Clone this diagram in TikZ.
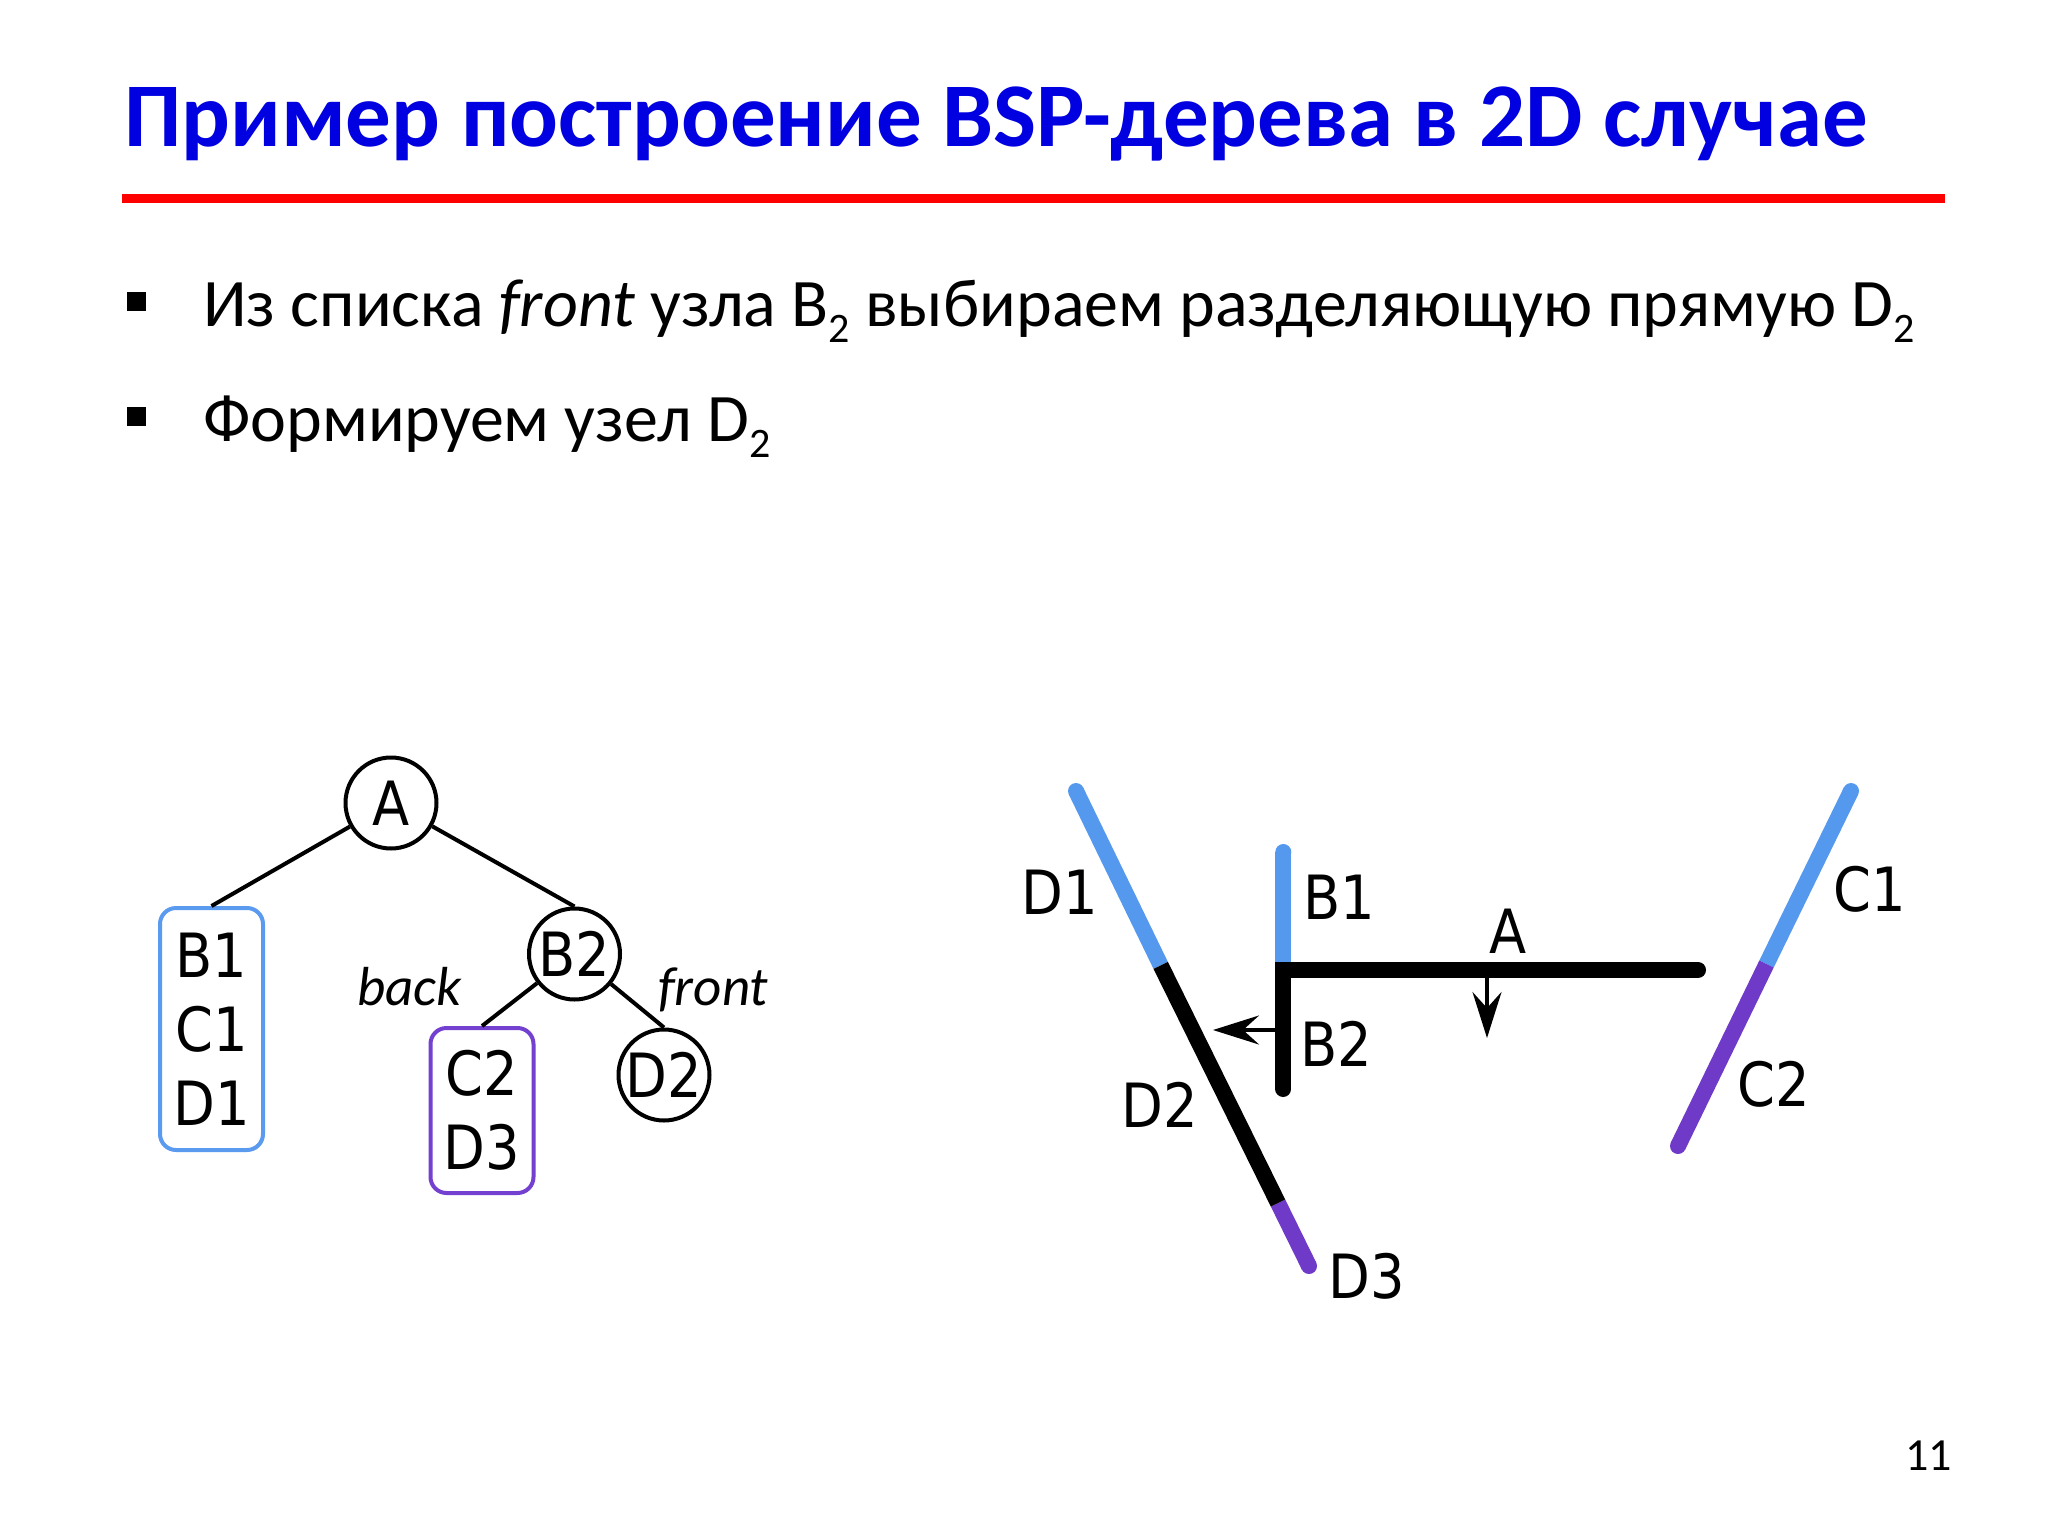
\documentclass[tikz,border=0pt]{standalone}
\usepackage{fontspec}
\setmainfont{Carlito}
\newfontfamily\lblfont[FakeStretch=0.89]{DejaVu Sans}
\usetikzlibrary{arrows.meta}
\definecolor{ttlblue}{RGB}{0,0,224}
\definecolor{segblue}{RGB}{85,153,238}
\definecolor{segpurple}{RGB}{112,58,200}
\definecolor{boxblue}{RGB}{90,155,240}
\definecolor{boxpurple}{RGB}{115,64,208}
\newcommand\sbtwo{\raisebox{-0.24em}{\fontsize{42}{42}\selectfont 2}}
\tikzset{
  lbl/.style={inner sep=0, font=\lblfont\fontsize{61}{74}\selectfont},
  tcirc/.style={lbl, circle, draw, line width=4pt, minimum size=91pt},
  lbox/.style={lbl, rectangle, rounded corners=16pt, line width=4pt, align=center, minimum width=103pt},
  tedge/.style={line width=4pt},
  seg/.style={line width=16pt, line cap=butt},
  thinarrow/.style={line width=3.5pt, -{Stealth[length=46pt,width=29pt,inset=16pt]}},
  sidetext/.style={inner sep=0, anchor=base west, font=\itshape\fontsize{55}{60}\selectfont},
  bullettext/.style={inner sep=0, anchor=base west, font=\fontsize{68}{80}\selectfont},
  bulletsq/.style={fill=black, minimum size=19pt, inner sep=0},
}
\begin{document}
\begin{tikzpicture}[x=1pt,y=-1pt]
\useasboundingbox[fill=white] (0,0) rectangle (2048,1536);

% title
\node[anchor=base west, inner sep=0, text=ttlblue, font=\bfseries\fontsize{91}{100}\selectfont] (title) at (124,146.5) {Пример построение BSP-дерева в 2D случае};
\draw[red, line width=8.7pt] (121.8,198.3) -- (1945,198.3);

% bullets
\node[bulletsq] (bul1) at (136.3,301) {};
\node[bullettext] (txt1) at (203,326) {Из списка \textit{front} узла B\sbtwo{} выбираем разделяющую прямую D\sbtwo};
\node[bulletsq] (bul2) at (136.3,416.7) {};
\node[bullettext] (txt2) at (203,441.5) {Формируем узел D\sbtwo};

% tree
\node[tcirc] (A) at (391,803) {A};
\node[tcirc] (B2) at (574.5,954) {B2};
\node[tcirc] (D2) at (664,1075) {D2};
\node[lbox, draw=boxblue, minimum height=242pt] (L) at (211.5,1029) {B1\\C1\\D1};
\node[lbox, draw=boxpurple, minimum height=165pt] (C) at (482,1110.5) {C2\\D3};
\draw[tedge] (A) -- (L.north);
\draw[tedge] (A) -- (B2.north);
\draw[tedge] (B2) -- (C.north);
\draw[tedge] (B2) -- (D2.north);
\node[sidetext] (back) at (357,1005) {back};
\node[sidetext] (front) at (658,1005) {front};

% right diagram: line D
\coordinate (dtop) at (1076,791);
\coordinate (dmid1) at (1160.7,965.4);
\coordinate (dmid2) at (1278,1203);
\coordinate (dbot) at (1309,1266);
\draw[seg, segblue] (dtop) -- (dmid1);
\fill[segblue] (dtop) circle (8pt);
\draw[seg, segpurple] (dmid2) -- (dbot);
\fill[segpurple] (dbot) circle (8pt);
\draw[seg, black] (dmid1) -- (dmid2);

% line C
\coordinate (ctop) at (1851,791);
\coordinate (cmid) at (1766.5,964);
\coordinate (cbot) at (1678,1146);
\draw[seg, segblue] (ctop) -- (cmid);
\fill[segblue] (ctop) circle (8pt);
\draw[seg, segpurple] (cmid) -- (cbot);
\fill[segpurple] (cbot) circle (8pt);

% line B and A
\coordinate (btop) at (1283.3,852);
\coordinate (bjoin) at (1283.3,962);
\coordinate (corner) at (1283.3,970);
\coordinate (bbot) at (1283.3,1089);
\coordinate (aend) at (1698,970);
\draw[seg, segblue] (btop) -- (bjoin);
\fill[segblue] (btop) circle (8pt);
\draw[line width=16pt, line cap=round, line join=miter] (bbot) -- (corner) -- (aend);

% normals
\coordinate (anorm0) at (1487,978);
\coordinate (anorm1) at (1487,1038);
\coordinate (bnorm0) at (1275,1030);
\coordinate (bnorm1) at (1213,1030);
\draw[thinarrow] (anorm0) -- (anorm1);
\draw[thinarrow] (bnorm0) -- (bnorm1);

% labels
\node[lbl] (lD1) at (1060,892) {D1};
\node[lbl] (lB1) at (1339,897) {B1};
\node[lbl] (lA) at (1508,931) {A};
\node[lbl] (lB2) at (1336,1044) {B2};
\node[lbl] (lD2) at (1160,1105) {D2};
\node[lbl] (lD3) at (1367,1276) {D3};
\node[lbl] (lC1) at (1870,889) {C1};
\node[lbl] (lC2) at (1774,1084) {C2};

% page number
\node[anchor=base east, inner sep=0, font=\fontsize{46}{46}\selectfont] (pg) at (1952,1470) {11};
\end{tikzpicture}
\end{document}
